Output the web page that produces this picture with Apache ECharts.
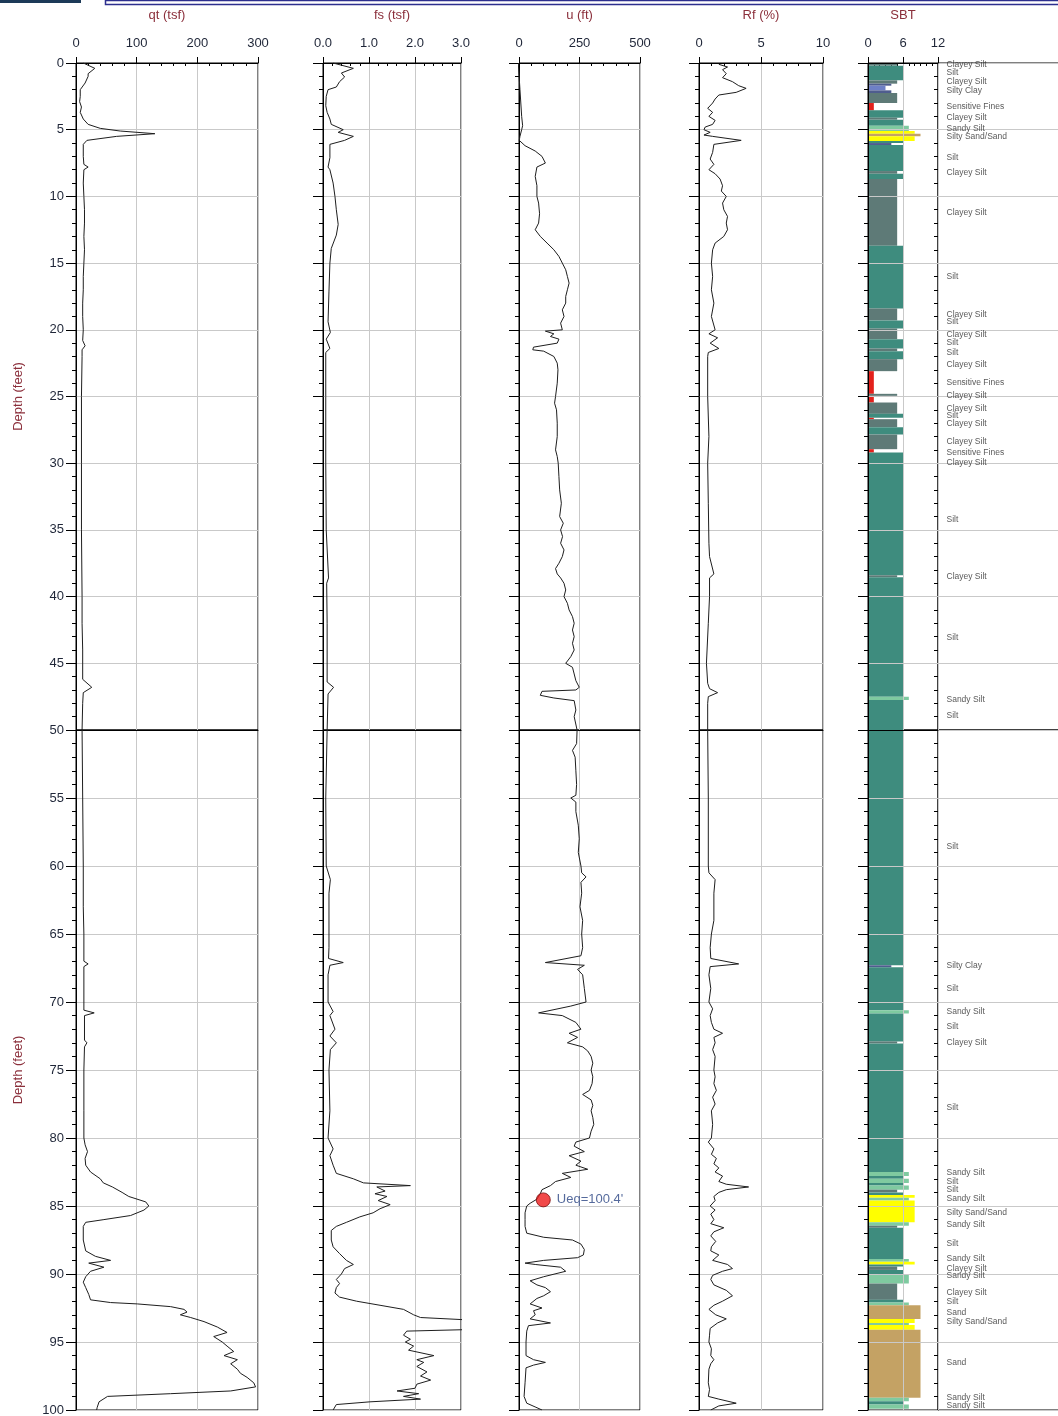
<!DOCTYPE html>
<html>
<head>
<meta charset="utf-8">
<script src="https://cdn.jsdelivr.net/npm/echarts@6/dist/echarts.min.js"></script>
<style>
  html, body { margin: 0; padding: 0; background: #fff; }
  #chart { width: 1058px; height: 1416px; }
</style>
</head>
<body>
<div id="chart"></div>
<script>
// ---- CPT sounding: each profile is [depth (ft), value] ----
const qtProfile = [
  [0.0,12],[0.4,31],[0.8,20],[1.0,20],[1.5,15],[2.0,7],[2.5,7],[2.9,6],[3.3,9],[3.7,7],[4.2,12],[4.6,20],
  [4.9,40],[5.1,73],[5.3,130],[5.5,67],[5.8,18],[6.1,12],[7.0,12],[7.6,13],[7.8,20],[8.0,13],[9.0,12],
  [10,13],[11,14],[12,14],[13,13],[14,14],[15,13],[16,12],[17,12],[18,11],[19,11],[20,12],[20.8,11],
  [21.2,15],[21.5,10],[22,10],[25,9],[30,9],[35,9],[40,10],[42,10],[44,11],[46.2,11],[46.8,26],[47.2,12],
  [48,11],[50,10],[55,11],[60,12],[63,12],[65,13],[67.0,13],[67.2,20],[67.4,13],[70,13],[70.6,13],
  [70.8,30],[71.0,14],[72.8,14],[73.0,18],[73.3,14],[75,13],[78,13],[80,13],[80.5,15],[81,19],[81.5,15],
  [82,16],[82.5,24],[83,40],[83.3,45],[83.6,60],[84,76],[84.3,87],[84.7,115],[85,120],[85.3,112],[85.7,90],
  [86,46],[86.2,16],[86.5,12],[87.5,12],[88.3,16],[88.7,32],[89,57],[89.2,21],[89.5,46],[89.8,24],[90.2,16],
  [90.6,12],[91,16],[91.5,21],[91.9,24],[92.1,57],[92.2,101],[92.4,156],[92.6,178],[92.8,183],[93.0,172],
  [93.2,189],[93.5,211],[93.9,233],[94.3,249],[94.6,227],[95,241],[95.3,249],[95.7,260],[96,244],[96.3,266],
  [96.6,255],[97,266],[97.3,271],[97.6,282],[98,293],[98.3,296],[98.6,255],[98.8,156],[99,52],[99.4,38],
  [99.8,35],[100,34]
];

const fsProfile = [
  [0,0.22],[0.4,0.66],[0.75,0.40],[1.05,0.47],[1.4,0.36],[1.8,0.29],[2.0,0.11],[2.5,0.07],[3.2,0.06],
  [3.7,0.09],[4.2,0.15],[4.6,0.18],[5.0,0.44],[5.2,0.33],[5.5,0.66],[5.8,0.47],[6.1,0.15],[7.1,0.15],
  [7.8,0.11],[8.0,0.15],[9,0.22],[10,0.26],[11,0.29],[12.1,0.33],[12.9,0.29],[13.9,0.18],[15,0.15],
  [17.1,0.13],[19.4,0.11],[20.2,0.16],[20.7,0.07],[21.4,0.15],[21.7,0.06],[25,0.06],[30,0.06],[35,0.07],
  [38.6,0.12],[39,0.08],[42,0.09],[46.4,0.09],[46.8,0.23],[47.3,0.11],[50,0.09],[55,0.06],[60,0.07],
  [61,0.16],[62,0.13],[66,0.13],[66.8,0.12],[67.1,0.44],[67.3,0.15],[68,0.11],[70,0.11],[70.7,0.22],
  [71,0.15],[72,0.26],[72.5,0.15],[73,0.29],[73.5,0.16],[75,0.13],[78,0.15],[80,0.11],[80.8,0.22],
  [81.3,0.15],[82,0.22],[82.6,0.29],[83,0.66],[83.3,0.88],[83.5,1.90],[83.6,1.17],[83.9,1.35],[84.1,1.13],
  [84.3,1.39],[84.6,1.20],[84.9,1.46],[85.2,1.24],[85.5,1.09],[85.8,0.80],[86.2,0.51],[86.5,0.29],
  [86.8,0.18],[87.5,0.18],[88,0.22],[88.5,0.36],[89,0.51],[89.3,0.66],[89.6,0.47],[90,0.40],[90.4,0.29],
  [90.7,0.36],[91,0.29],[91.4,0.26],[91.7,0.36],[92,0.73],[92.3,1.24],[92.6,1.75],[93,1.97],[93.2,2.12],
  [93.45,3.6],[94.05,3.6],[94.2,1.82],[94.5,1.75],[94.8,1.90],[95,1.79],[95.3,1.97],[95.6,1.86],[96,2.41],
  [96.3,2.04],[96.5,2.19],[96.8,2.04],[97.2,2.26],[97.5,2.12],[97.8,2.34],[98.1,2.04],[98.4,2.0],
  [98.6,1.61],[98.8,2.08],[99,1.75],[99.2,2.12],[99.4,1.02],[99.6,0.29],[100,0.22]
];

const uProfile = [
  [0,-3],[2,4],[4,11],[4.7,15],[5,11],[5.5,4],[5.8,1],[6.2,25],[6.6,67],[7,95],[7.5,109],[7.8,74],[8.5,67],
  [9.2,74],[10,74],[10.5,81],[11.3,85],[12,81],[12.5,67],[13,88],[13.5,116],[14,144],[14.5,165],[15,179],
  [15.5,193],[16,200],[16.5,207],[17,200],[17.5,193],[18,193],[18.5,179],[19,186],[19.5,172],[20,179],
  [20.1,109],[20.3,144],[20.5,130],[20.7,165],[21,158],[21.3,60],[21.5,57],[21.6,102],[22,144],[22.5,158],
  [23,161],[24,158],[25,151],[25.5,147],[26,155],[27,158],[28,158],[29,151],[29.5,158],[30,162],[31,165],
  [32,168],[33,175],[34,168],[34.5,183],[35,172],[35.5,180],[36,172],[36.5,186],[37,179],[37.5,165],
  [37.9,151],[38.3,158],[38.6,172],[39,186],[39.5,193],[40,186],[40.5,200],[41,207],[41.5,221],[42,228],
  [42.5,221],[43,228],[43.5,221],[44,228],[44.5,214],[45,193],[45.3,221],[45.8,228],[46.3,235],[46.8,249],
  [47,235],[47.1,95],[47.4,88],[47.6,144],[47.8,228],[48.5,235],[49,228],[50,240],[51,238],[51.5,221],
  [52,232],[53,235],[54,238],[54.8,235],[55,214],[55.3,235],[56,235],[57,245],[58,249],[59,245],[60,256],
  [60.5,259],[60.8,277],[61.2,256],[62,259],[63,252],[64,263],[65,259],[66,263],[66.6,256],[67.1,109],
  [67.3,270],[67.6,242],[68,263],[69,270],[70,277],[70.3,214],[70.8,81],[71,179],[71.5,235],[72,256],
  [72.3,207],[72.6,242],[73,200],[73.3,263],[73.6,284],[74,298],[74.5,305],[75,298],[75.5,305],[76,302],
  [76.5,291],[76.8,263],[77.2,298],[77.6,305],[78,298],[78.5,305],[79,309],[79.5,298],[80,291],[80.3,235],
  [80.6,228],[81,270],[81.3,207],[81.7,256],[82,235],[82.3,284],[82.6,179],[82.9,214],[83.2,151],
  [83.5,130],[83.8,95],[84.1,88],[84.5,74],[84.8,46],[85,32],[85.5,25],[86,25],[86.5,25],[87,32],
  [87.3,102],[87.5,221],[87.8,256],[88.2,270],[88.6,266],[88.8,242],[89,102],[89.2,25],[89.3,67],
  [89.5,172],[89.8,193],[90.2,102],[90.5,46],[90.8,74],[91,109],[91.3,130],[91.6,102],[91.8,74],[92.2,46],
  [92.5,95],[92.7,60],[93,67],[93.3,46],[93.6,130],[93.8,39],[94.2,32],[95,29],[96,29],[96.3,60],
  [96.5,109],[96.7,60],[96.9,29],[98,25],[99,21],[99.5,32],[99.8,70],[100,95]
];

const rfProfile = [
  [0.1,1.6],[0.3,2.3],[0.5,1.9],[0.8,2.2],[1.1,1.9],[1.4,2.7],[1.7,3.2],[1.9,3.8],[2.2,3.0],[2.4,1.6],
  [2.7,1.3],[3.0,1.1],[3.4,0.7],[3.7,1.1],[4.0,0.8],[4.3,1.3],[4.6,1.1],[4.8,0.5],[5.0,0.4],[5.2,0.9],
  [5.4,0.4],[5.5,1.1],[5.8,3.4],[6.1,1.2],[6.7,1.1],[7.2,0.9],[7.6,1.2],[8.0,0.8],[8.3,1.3],[8.7,1.7],
  [9.2,1.9],[9.6,1.8],[10,2.2],[10.5,1.9],[11,2.0],[11.5,2.3],[12,2.2],[12.5,2.3],[13,2.0],[13.5,1.3],
  [14,1.1],[15,1.0],[16,1.1],[17,1.0],[18,1.2],[19,1.0],[20,1.3],[20.3,0.8],[20.6,1.5],[21,0.9],[21.4,1.6],
  [21.7,0.75],[22,0.7],[25,0.7],[28,0.8],[30,0.7],[33,0.75],[36,0.8],[37,0.85],[38.3,1.2],[38.6,0.85],
  [40,0.85],[42,0.75],[45,0.6],[46.5,0.7],[46.9,0.85],[47.2,1.5],[47.5,0.75],[48,0.7],[50,0.7],[55,0.75],
  [60,0.75],[60.5,0.8],[61,1.3],[62,1.2],[64,1.2],[65,1.0],[66,0.9],[66.8,0.95],[67.2,3.2],[67.4,0.9],
  [68,0.8],[69,0.95],[70,0.8],[70.5,1.1],[71,0.9],[71.5,1.0],[72,1.2],[72.3,1.9],[72.6,1.2],[73,1.3],
  [73.5,1.1],[74,1.3],[75,1.2],[75.5,1.3],[76,1.2],[76.5,1.4],[77,1.1],[77.5,1.3],[78,1.0],[79,1.1],
  [80,1.0],[80.3,0.75],[80.8,1.2],[81.2,1.0],[81.5,1.4],[81.9,1.2],[82.2,1.6],[82.5,1.3],[82.8,1.9],
  [83.2,1.6],[83.4,2.2],[83.6,4.0],[83.8,2.2],[84,1.6],[84.3,1.2],[84.6,1.3],[85,0.9],[85.3,1.3],
  [85.6,0.95],[86,1.2],[86.3,0.95],[86.6,2.0],[86.9,1.2],[87.2,0.95],[87.6,1.35],[88,1.0],[88.3,0.95],
  [88.6,1.6],[89,1.1],[89.3,2.3],[89.6,2.7],[89.8,1.9],[90.1,1.1],[90.4,0.95],[90.8,1.2],[91.2,2.2],
  [91.6,2.7],[92,1.9],[92.3,1.2],[92.6,0.8],[93,1.35],[93.3,2.2],[93.6,1.5],[94,0.9],[94.5,0.85],[95,0.8],
  [95.5,1.0],[96,0.95],[96.3,1.2],[96.6,0.95],[97,0.8],[98,0.75],[98.5,0.85],[99,0.75],[99.2,1.6],
  [99.5,3.0],[99.7,1.6],[100,0.95]
];

// Soil behaviour type layers: [top depth, bottom depth, SBT zone]
const sbtLayers = [
  [0.0,0.2,5],[0.2,1.3,6],[1.3,1.55,5],[1.55,1.7,4],[1.7,2.05,3],[2.05,2.25,4],[2.25,3.0,5],[3.0,3.55,1],
  [3.55,4.1,6],[4.1,4.25,5],[4.25,4.7,6],[4.7,5.1,7],[5.1,5.3,8],[5.3,5.5,9],[5.5,5.85,8],[5.85,6.0,6],
  [6.0,6.15,4],[6.15,8.1,6],[8.1,8.3,5],[8.3,8.7,6],[8.7,13.7,5],[13.7,18.4,6],[18.4,19.3,5],[19.3,19.9,6],
  [19.9,20.7,5],[20.7,21.4,6],[21.4,21.6,5],[21.6,22.2,6],[22.2,23.1,5],[23.1,24.8,1],[24.8,24.95,5],
  [24.95,25.45,1],[25.45,26.3,5],[26.3,26.6,6],[26.6,26.7,1],[26.7,27.3,5],[27.3,27.85,6],[27.85,28.95,5],
  [28.95,29.2,1],[29.2,38.4,6],[38.4,38.55,5],[38.55,47.5,6],[47.5,47.75,7],[47.75,67.3,6],[67.3,67.45,4],
  [67.45,70.6,6],[70.6,70.85,7],[70.85,72.9,6],[72.9,73.05,5],[73.05,82.5,6],[82.5,82.8,7],[82.8,83.0,6],
  [83.0,83.3,7],[83.3,83.5,6],[83.5,83.8,7],[83.8,84.0,5],[84.0,84.2,6],[84.2,84.4,8],[84.4,84.6,7],
  [84.6,86.2,8],[86.2,86.45,7],[86.45,86.6,5],[86.6,88.9,6],[88.9,89.1,7],[89.1,89.3,8],[89.3,89.45,6],
  [89.45,89.7,5],[89.7,90.0,6],[90.0,90.7,7],[90.7,91.9,5],[91.9,92.1,6],[92.1,92.3,7],[92.3,93.3,9],
  [93.3,93.6,8],[93.6,93.75,7],[93.75,94.1,8],[94.1,99.1,9],[99.1,99.35,7],[99.35,99.6,6],[99.6,99.9,7]
];

// Layer names printed beside the SBT column: [depth, name]
const sbtNames = [
  [0.15,'Clayey Silt'],[0.75,'Silt'],[1.42,'Clayey Silt'],[2.1,'Silty Clay'],[3.25,'Sensitive Fines'],
  [4.13,'Clayey Silt'],[4.93,'Sandy Silt'],[5.55,'Silty Sand/Sand'],[7.1,'Silt'],[8.25,'Clayey Silt'],
  [11.2,'Clayey Silt'],[16.05,'Silt'],[18.85,'Clayey Silt'],[19.4,'Silt'],[20.4,'Clayey Silt'],[20.95,'Silt'],
  [21.7,'Silt'],[22.65,'Clayey Silt'],[23.95,'Sensitive Fines'],[24.95,'Clayey Silt'],[25.9,'Clayey Silt'],
  [26.4,'Silt'],[27.0,'Clayey Silt'],[28.35,'Clayey Silt'],[29.2,'Sensitive Fines'],[29.95,'Clayey Silt'],
  [34.2,'Silt'],[38.5,'Clayey Silt'],[43.05,'Silt'],[47.7,'Sandy Silt'],[48.9,'Silt'],
  [58.6,'Silt'],[67.3,'Silty Clay'],[69.0,'Silt'],[70.7,'Sandy Silt'],[71.8,'Silt'],[73.0,'Clayey Silt'],
  [77.8,'Silt'],[82.55,'Sandy Silt'],[83.2,'Silt'],[83.8,'Silt'],[84.45,'Sandy Silt'],[85.5,'Silty Sand/Sand'],
  [86.35,'Sandy Silt'],[87.75,'Silt'],[88.9,'Sandy Silt'],[89.6,'Clayey Silt'],[90.15,'Sandy Silt'],
  [91.4,'Clayey Silt'],[92.0,'Silt'],[92.85,'Sand'],[93.5,'Silty Sand/Sand'],[96.55,'Sand'],
  [99.1,'Sandy Silt'],[99.65,'Sandy Silt']
];

// Equilibrium pore pressure marker: [u (ft), depth (ft)]
const ueqPoint = [100.4, 84.55];
const ueqText = "Ueq=100.4'";

const zoneColors = {
  1: '#e3211c', 3: '#6e80c6', 4: '#4f5d8e', 5: '#5e7a77', 6: '#3e8c7e',
  7: '#7fcaa0', 8: '#ffff00', 9: '#c4a264'
};

const TITLE_COLOR = '#8b2f3b';
const TICK_COLOR = '#1f2638';
const GRID_COLOR = '#c9c9c9';
const FONT = 'Liberation Sans';

const halves = [
  { top: 63, height: 667, min: 0, max: 50 },
  { top: 730, height: 680, min: 50, max: 100 }
];

const panels = [
  { name: 'qt (tsf)', left: 76, width: 182, min: 0, max: 300, interval: 100, minor: 5, data: qtProfile },
  { name: 'fs (tsf)', left: 323, width: 138, min: 0, max: 3, interval: 1, minor: 5, data: fsProfile,
    fmt: v => v.toFixed(1) },
  { name: 'u (ft)', left: 519, width: 121, min: 0, max: 500, interval: 250, minor: 5, data: uProfile },
  { name: 'Rf (%)', left: 699, width: 124, min: 0, max: 10, interval: 5, minor: 5, data: rfProfile },
  { name: 'SBT', left: 868, width: 70, min: 0, max: 12, interval: 6, minor: 6, sbt: true }
];

const grids = [], xAxes = [], yAxes = [], series = [];
const black = { color: '#000', width: 1 };

function depthAxis(gridIndex, half, opts) {
  return Object.assign({
    gridIndex, type: 'value', inverse: true, min: half.min, max: half.max, interval: 5,
    axisLine: { show: true, onZero: false, lineStyle: black },
    axisTick: { show: true, length: 10, lineStyle: black },
    minorTick: { show: true, splitNumber: 5, length: 4, lineStyle: black },
    splitLine: { show: true, lineStyle: { color: GRID_COLOR, width: 1 } },
    axisLabel: { show: false }
  }, opts || {});
}

halves.forEach((half, hi) => {
  panels.forEach((p, pi) => {
    const g = grids.length;
    grids.push({ left: p.left, top: half.top, width: p.width, height: half.height,
      outerBoundsMode: 'none',
      show: true, borderColor: '#000', borderWidth: 1, backgroundColor: 'transparent' });

    const xi = xAxes.length;
    const onTop = hi === 0;
    xAxes.push({
      gridIndex: g, type: 'value', position: 'top', min: p.min, max: p.max, interval: p.interval,
      z: p.sbt ? 5 : 0,
      axisLine: { show: true, onZero: false, lineStyle: black },
      axisTick: { show: onTop, length: 6, lineStyle: black },
      splitLine: { show: true, lineStyle: { color: GRID_COLOR, width: 1 } },
      axisLabel: { show: onTop, margin: 13, fontSize: 13, fontFamily: FONT, color: TICK_COLOR,
        formatter: p.fmt || (v => String(v)) },
      name: onTop ? p.name : '', nameLocation: 'middle', nameGap: 41,
      nameTextStyle: { color: TITLE_COLOR, fontSize: 13, fontFamily: FONT }
    });
    if (onTop) {
      // short inward ticks between the labelled values
      xAxes.push({
        gridIndex: g, type: 'value', position: 'top', min: p.min, max: p.max, interval: p.interval,
        axisLine: { show: false }, axisTick: { show: false, inside: true },
        minorTick: { show: true, splitNumber: p.minor, length: 3, lineStyle: black },
        splitLine: { show: false }, axisLabel: { show: false }
      });
    }

    const yi = yAxes.length;
    const isQt = pi === 0;
    yAxes.push(depthAxis(g, half, {
      z: p.sbt ? 5 : 0,
      axisLabel: { show: isQt, margin: 12, fontSize: 13, fontFamily: FONT, color: TICK_COLOR,
        showMaxLabel: hi === 0 ? false : true },
      name: isQt ? 'Depth (feet)' : '', nameLocation: 'middle', nameGap: 51,
      nameTextStyle: { color: TITLE_COLOR, fontSize: 13, fontFamily: FONT }
    }));

    if (p.sbt) {
      series.push({
        type: 'custom', xAxisIndex: xi, yAxisIndex: yi, clip: true, silent: true,
        data: sbtLayers.filter(l => l[1] > half.min && l[0] < half.max),
        encode: { x: 2, y: [0, 1] },
        renderItem: (params, api) => {
          const cs = params.coordSys;
          const a = api.coord([0, api.value(0)]);
          const b = api.coord([api.value(2), api.value(1)]);
          const y0 = Math.max(cs.y, a[1]);
          const y1 = Math.min(cs.y + cs.height, b[1]);
          return { type: 'rect', shape: { x: a[0], y: y0, width: b[0] - a[0], height: y1 - y0 },
            style: { fill: zoneColors[api.value(2)] } };
        }
      });
    } else {
      series.push({
        type: 'line', xAxisIndex: xi, yAxisIndex: yi, clip: true, showSymbol: false, silent: true,
        data: p.data.map(d => [d[1], d[0]]),
        lineStyle: { color: '#1e1e1e', width: 1 }
      });
    }

    if (pi === 2 && hi === 1) {
      series.push({
        type: 'scatter', xAxisIndex: xi, yAxisIndex: yi, silent: true, z: 4,
        data: [[ueqPoint[0], ueqPoint[1]]], symbolSize: 14,
        itemStyle: { color: '#ee1b1b', borderColor: '#7a0d0d', borderWidth: 1 },
        label: { show: true, position: 'right', distance: 6, formatter: ueqText,
          color: '#2b4583', fontSize: 13, fontFamily: FONT }
      });
    }
  });

  // layer-name column to the right of the SBT track (runs off the right edge)
  const g = grids.length;
  grids.push({ left: 938, top: half.top, width: 160, height: half.height,
    outerBoundsMode: 'none',
    show: true, borderColor: '#000', borderWidth: 1, backgroundColor: 'transparent' });
  const xi = xAxes.length;
  xAxes.push({ gridIndex: g, type: 'value', position: 'top', min: 0, max: 1, show: false });
  const yi = yAxes.length;
  yAxes.push(depthAxis(g, half, {
    axisTick: { show: true, length: 4, lineStyle: black },
    minorTick: { show: true, splitNumber: 5, length: 4, lineStyle: black }
  }));
  series.push({
    type: 'scatter', xAxisIndex: xi, yAxisIndex: yi, silent: true, symbolSize: 1,
    itemStyle: { color: 'transparent' },
    data: sbtNames.filter(n => n[0] >= half.min && n[0] <= half.max)
      .map(n => ({ value: [0, n[0]], name: n[1] })),
    label: { show: true, position: 'right', distance: 8, formatter: '{b}',
      color: '#2e2e2e', fontSize: 8.5, fontFamily: FONT }
  });
});

const chart = echarts.init(document.getElementById('chart'), null, { renderer: 'canvas' });
chart.setOption({
  animation: false,
  backgroundColor: '#ffffff',
  grid: grids,
  xAxis: xAxes,
  yAxis: yAxes,
  series: series,
  graphic: [
    { type: 'rect', left: 0, top: 0, shape: { width: 81, height: 3 }, style: { fill: '#1d3a58' }, silent: true },
    { type: 'rect', left: 103, top: -2, shape: { width: 970, height: 4 },
      style: { fill: 'none', stroke: '#2d2f8e', lineWidth: 1.5 }, silent: true }
  ]
});
</script>
</body>
</html>
